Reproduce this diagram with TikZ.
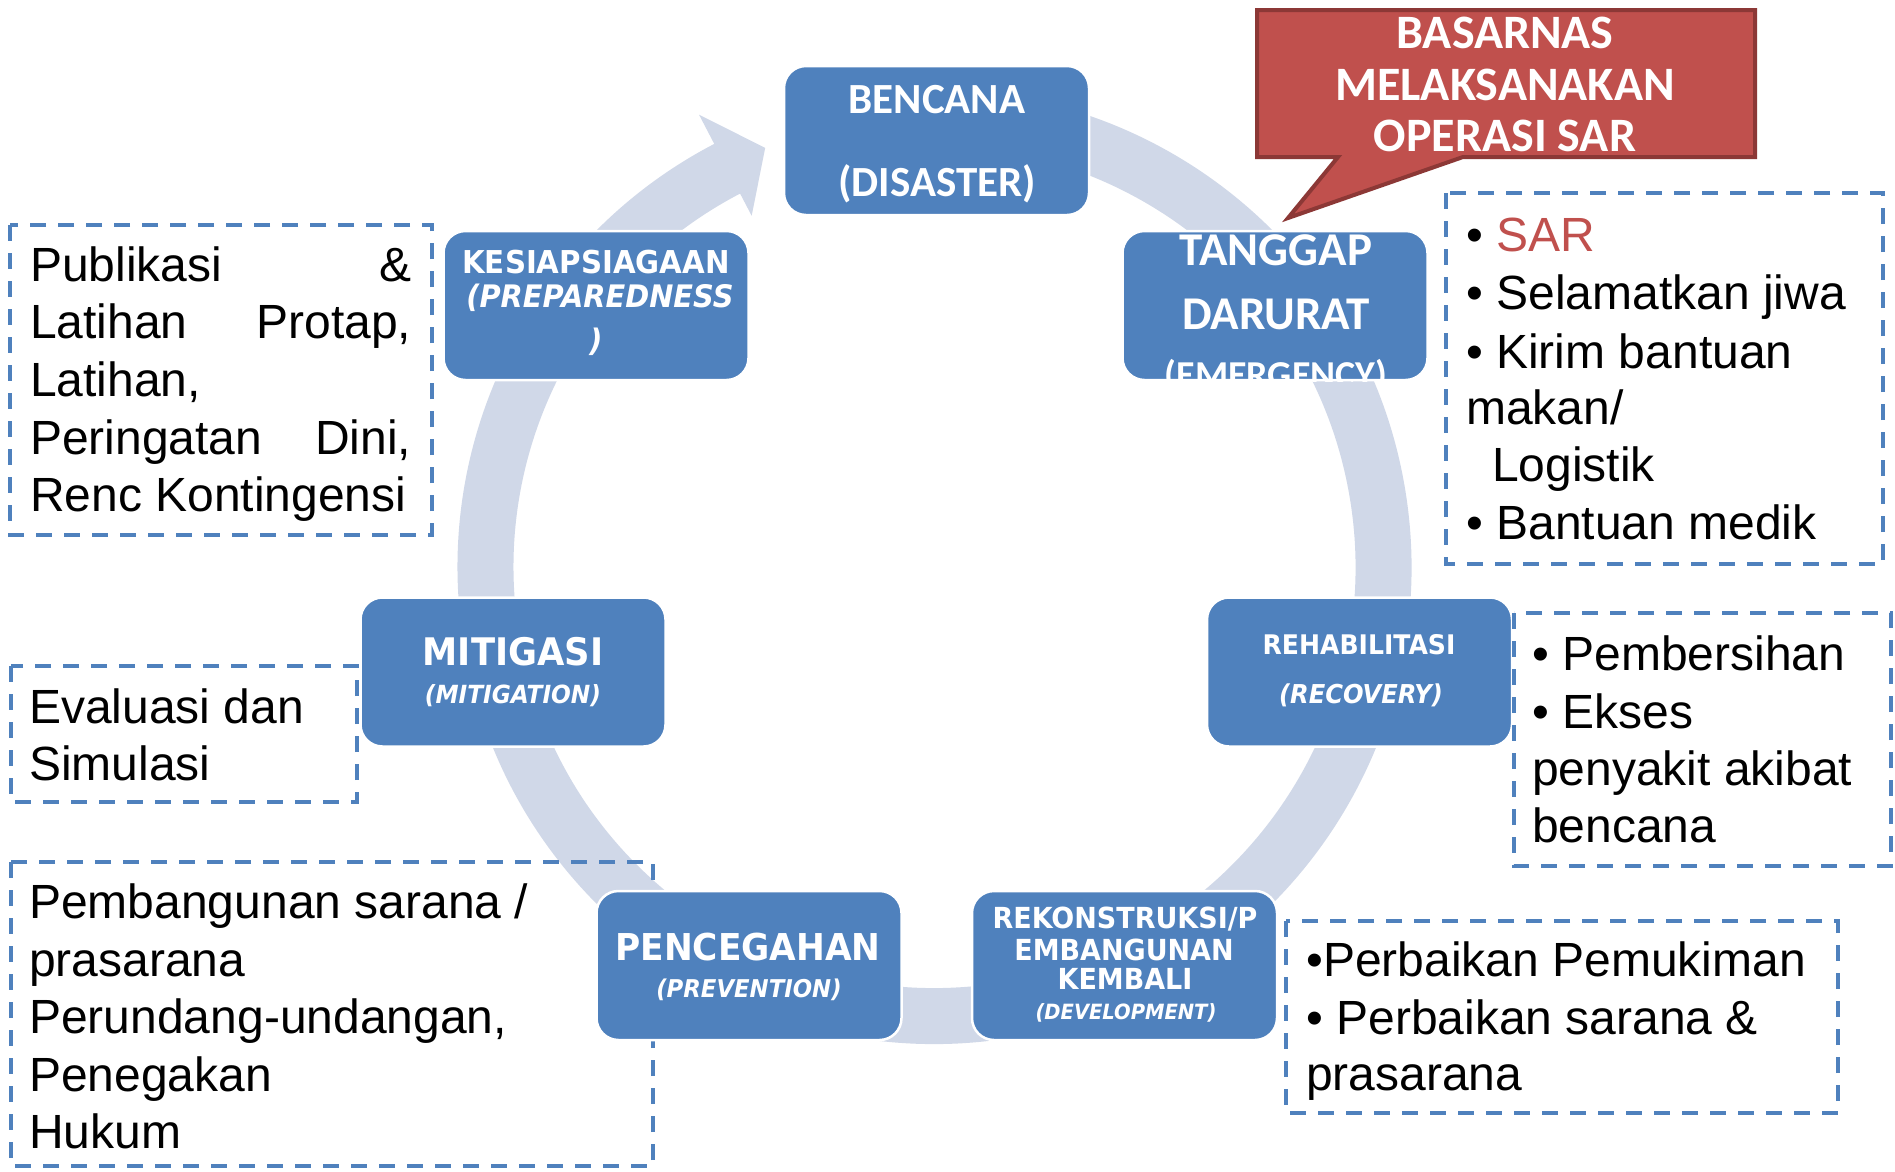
\documentclass[tikz,border=0pt]{standalone}
\usepackage{fontspec}
\setmainfont{Liberation Sans}
\newfontfamily\calfont{Carlito}
\newfontfamily\tahfont[FakeStretch=0.93]{DejaVu Sans}
\usetikzlibrary{calc}
\definecolor{boxblue}{HTML}{4F81BD}
\definecolor{ringc}{HTML}{D0D8E8}
\definecolor{redc}{HTML}{C0504D}
\definecolor{redborder}{HTML}{8C3836}
\tikzset{
  stage/.style={fill=boxblue, draw=white, line width=2.5pt, rounded corners=22pt,
    minimum width=305pt, minimum height=149pt, inner sep=0pt},
  lbl/.style={text=white, inner sep=0pt, anchor=base},
  body/.style={inner sep=0pt, anchor=base west, font=\fontsize{48}{58}\selectfont},
  dbox/.style={draw=boxblue, line width=4pt, dash pattern=on 16pt off 12pt},
  ringband/.style={draw=ringc, line width=56pt},
  calb/.style={font=\calfont\bfseries\fontsize{#1}{#1}\selectfont},
  tahb/.style={font=\tahfont\bfseries\fontsize{#1}{#1}\selectfont},
  tahi/.style={font=\tahfont\bfseries\itshape\fontsize{#1}{#1}\selectfont},
}
\begin{document}
\begin{tikzpicture}[x=1pt,y=1pt]
\useasboundingbox (0,0) rectangle (1895,-1171);
\fill[white] (0,0) rectangle (1895,-1171);
\coordinate (c) at (934.5,-567);
% ring with arrow
\draw[ringband] (c) ++(100:449) arc[start angle=100, end angle=-243, radius=449];
\fill[ringc] ($(c)+(117.5:510)$) -- ($(c)+(112:452)$) -- ($(c)+(117.5:396)$) -- cycle;
% dashed boxes behind
\draw[dbox] (10,-225) rectangle (432,-535);
\draw[dbox] (11,-666) rectangle (357,-802);
\draw[dbox] (11,-862) rectangle (653,-1166);
\draw[dbox] (1446,-193) rectangle (1883,-564);
\draw[dbox] (1286,-921) rectangle (1838,-1113);
% stage boxes
\node[stage] (bencana) at (936.5,-140.5) {};
\node[stage] (kesiap) at (596,-305.5) {};
\node[stage] (tanggap) at (1275,-305.5) {};
\node[stage] (mitigasi) at (513,-672) {};
\node[stage] (rehab) at (1359.5,-672) {};
\node[stage] (pencegahan) at (749,-965.5) {};
\node[stage] (rekon) at (1124.5,-965.5) {};
\draw[dbox] (1514,-613) rectangle (1891,-866);
% callout
\draw[fill=redc, draw=redborder, line width=4pt, line join=miter]
  (1257,-10) -- (1755,-10) -- (1755,-157) -- (1463,-157) -- (1288,-218)
  -- (1338,-157) -- (1257,-157) -- cycle;
\node[lbl, calb=48] (cb1) at (1505,-48) {BASARNAS};
\node[lbl, calb=48] (cb2) at (1505,-100) {MELAKSANAKAN};
\node[lbl, calb=48] (cb3) at (1505,-151) {OPERASI SAR};
% stage labels
\node[lbl, calb=43] (bt1) at (937,-113) {BENCANA};
\node[lbl, calb=43] (bt2) at (937,-196) {(DISASTER)};
\begin{scope}
\clip[rounded corners=22pt] (1124,-230) rectangle (1426,-381);
\node[lbl, calb=47] (tt1) at (1276,-265) {TANGGAP};
\node[lbl, calb=47] (tt2) at (1276,-329) {DARURAT};
\node[lbl, calb=38] (tt3) at (1276,-387) {(EMERGENCY)};
\end{scope}
\node[lbl, tahb=31.5] (kt1) at (596,-273) {KESIAPSIAGAAN};
\node[lbl, tahi=31] (kt2) at (600,-307) {(PREPAREDNESS};
\node[lbl, tahi=31] (kt3) at (596,-351) {)};
\node[lbl, tahb=38] (mt1) at (513,-665) {MITIGASI};
\node[lbl, tahi=25] (mt2) at (513,-703) {(MITIGATION)};
\node[lbl, tahb=37] (pt1) at (748,-960) {PENCEGAHAN};
\node[lbl, tahi=24.5] (pt2) at (749,-997) {(PREVENTION)};
\node[lbl, tahb=29] (rk1) at (1125,-928) {REKONSTRUKSI/P};
\node[lbl, tahb=29] (rk2) at (1124,-960) {EMBANGUNAN};
\node[lbl, tahb=29] (rk3) at (1125,-989) {KEMBALI};
\node[lbl, tahi=21] (rk4) at (1126,-1019) {(DEVELOPMENT)};
\node[lbl, tahb=27] (rh1) at (1359,-654) {REHABILITASI};
\node[lbl, tahi=26] (rh2) at (1361,-703) {(RECOVERY)};
% body texts
\node[body] (p1) at (30,-281) {\hbox to 381pt{Publikasi\hfill\&}};
\node[body] (p2) at (30,-338.7) {\hbox to 381pt{Latihan\hfill Protap,}};
\node[body] (p3) at (30,-396.4) {Latihan,};
\node[body] (p4) at (30,-454.1) {\hbox to 381pt{Peringatan\hfill Dini,}};
\node[body] (p5) at (30,-511.8) {Renc Kontingensi};
\node[body] (e1) at (29,-723) {Evaluasi dan};
\node[body] (e2) at (29,-780) {Simulasi};
\node[body] (b1) at (29,-918) {Pembangunan sarana /};
\node[body] (b2) at (29,-976) {prasarana};
\node[body] (b3) at (29,-1033) {Perundang-undangan,};
\node[body] (b4) at (29,-1091) {Penegakan};
\node[body] (b5) at (29,-1148) {Hukum};
\node[body] (s1) at (1466,-251) {• \textcolor{redc}{SAR}};
\node[body] (s2) at (1466,-309) {• Selamatkan jiwa};
\node[body] (s3) at (1466,-368) {• Kirim bantuan};
\node[body] (s4) at (1466,-424) {makan/};
\node[body] (s5) at (1492,-481) {Logistik};
\node[body] (s6) at (1466,-539) {• Bantuan medik};
\node[body] (r1) at (1532,-670) {• Pembersihan};
\node[body] (r2) at (1532,-728) {• Ekses};
\node[body] (r3) at (1532,-785) {penyakit akibat};
\node[body] (r4) at (1532,-842) {bencana};
\node[body] (k1) at (1306,-976) {•Perbaikan Pemukiman};
\node[body] (k2) at (1306,-1034) {• Perbaikan sarana \&};
\node[body] (k3) at (1306,-1090) {prasarana};
\end{tikzpicture}
\end{document}
